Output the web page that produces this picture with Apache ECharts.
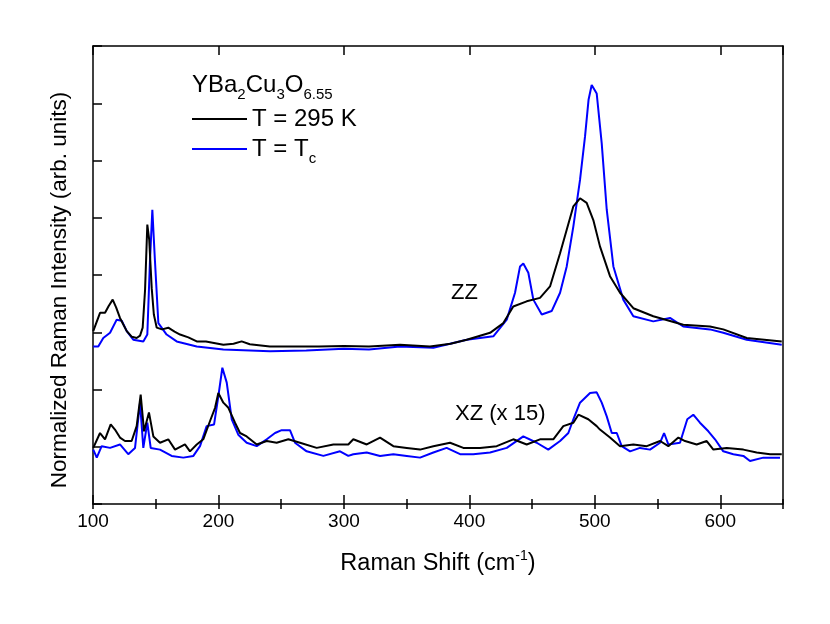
<!DOCTYPE html>
<html>
<head>
<meta charset="utf-8">
<script src="https://cdn.jsdelivr.net/npm/echarts@6/dist/echarts.min.js"></script>
<style>
html, body { margin: 0; padding: 0; background: #fff; }
#chart { width: 830px; height: 624px; }
</style>
</head>
<body>
<div id="chart"></div>
<script>
// Raman spectra (intensity in arbitrary units, 0..8 frame)
var zzRoomX = [100.2,105.6,109.6,112.5,115.7,118.5,121.5,126.9,131,134.8,137.5,139.6,141.5,143.3,144.8,146.8,148.5,150.8,155,160,165,169.4,176,182.7,190,203.9,212,218.5,225,241,260,280,300,320,344.7,368.6,385,397.9,416.5,427.1,435,445.7,456.3,464.3,472.3,477.6,482.9,488.2,493.5,498.8,504.1,512.1,520.1,530.7,546.6,570.5,591.8,602.4,621.1,649];
var zzRoomY = [3.02,3.34,3.34,3.46,3.57,3.43,3.25,3.02,2.92,2.90,2.94,3.08,3.74,4.88,4.62,3.77,3.31,3.08,3.05,3.08,3.01,2.96,2.91,2.84,2.84,2.78,2.80,2.84,2.79,2.75,2.75,2.75,2.76,2.75,2.78,2.75,2.80,2.87,2.99,3.16,3.45,3.54,3.60,3.80,4.38,4.79,5.20,5.34,5.26,4.96,4.50,3.98,3.69,3.42,3.28,3.13,3.10,3.05,2.90,2.84];

var zzTcX = [100.2,104.2,108.2,113.6,118.9,122.9,126.9,132.1,140.1,143.3,145.4,147.3,149.4,152.1,158.7,166.7,182.7,203.9,241.1,270,300,320,344.7,371.3,397.9,419.1,429.8,436.4,440.4,443,447,451,457.7,465.6,472.3,477.6,482.9,488.2,492.2,495,497.5,501.5,505.5,509.5,514.8,522.7,530.7,546.6,559.9,570.5,591.8,602.4,621.1,649];
var zzTcY = [2.75,2.75,2.90,2.99,3.22,3.20,3.02,2.87,2.84,2.96,4.24,5.14,4.24,3.16,2.96,2.84,2.75,2.70,2.67,2.68,2.71,2.70,2.75,2.73,2.87,2.93,3.22,3.69,4.15,4.20,4.04,3.57,3.31,3.37,3.69,4.15,4.85,5.66,6.42,7.06,7.32,7.17,6.30,5.14,4.15,3.57,3.28,3.19,3.25,3.10,3.05,2.99,2.87,2.78];

var xzRoomX = [100.2,105.6,109.6,114.1,117.5,121.5,125.5,130.8,134.8,138,140.7,144.6,148.1,153.4,160,165.4,173.3,177.3,182.7,187.9,193.3,197.3,199.9,203.9,207.9,213.2,217.2,222.5,230.5,238.5,246.4,255.7,265,278.3,291.6,303.5,307.5,318.2,328.8,339.4,350.1,360.7,371.3,384.6,395.2,408.5,421.8,435,445.7,456.3,466.9,474.9,482.9,486.9,494.8,501.5,504.1,512.1,520.1,530.7,541.4,552,558.6,566.6,571.9,581.2,589.2,594.5,605.1,618.4,629,639.7,649];
var xzRoomY = [0.98,1.24,1.13,1.39,1.30,1.16,1.10,1.10,1.36,1.91,1.27,1.60,1.18,1.07,1.13,0.95,1.04,0.92,1.04,1.13,1.45,1.68,1.94,1.77,1.68,1.42,1.24,1.18,1.04,1.10,1.07,1.13,1.07,0.98,1.04,1.04,1.13,1.04,1.16,1.01,0.98,0.95,1.01,1.07,0.98,0.98,1.01,1.13,1.04,1.13,1.13,1.36,1.42,1.56,1.48,1.36,1.30,1.16,1.01,1.04,1.01,1.10,1.01,1.16,1.10,1.04,1.10,0.95,0.98,0.95,0.90,0.87,0.87];

var xzTcX = [100.2,103,106.9,113.6,121.5,128.1,133.5,137.5,140.1,143.3,146,153.4,162.7,172,180,185.3,190.6,196.5,199.9,203.1,206.6,210.6,215.8,222.5,230.5,238.5,245.1,250.4,257,261,270.3,283.6,296.9,303.5,307.5,318.2,328.8,339.4,350.1,360.7,371.3,381.9,392.6,403.1,416.5,429.8,443,453.7,462.9,472.3,478.9,482.9,488.2,496.2,501.5,505.5,509.5,513.5,517.5,521.4,528.1,536,544,552,555.2,558.6,567.9,573.7,578.5,583.8,590.5,595.8,602.4,610.4,618.4,623.7,634.3,647.6];
var xzTcY = [0.95,0.81,1.01,0.98,1.04,0.87,0.98,1.77,0.98,1.42,0.98,0.95,0.84,0.81,0.84,1.01,1.36,1.39,1.88,2.38,2.12,1.48,1.21,1.07,1.01,1.13,1.24,1.29,1.29,1.07,0.92,0.84,0.92,0.84,0.87,0.90,0.84,0.87,0.84,0.81,0.90,0.98,0.87,0.87,0.90,0.98,1.18,1.07,0.95,1.10,1.24,1.48,1.77,1.94,1.95,1.77,1.53,1.24,1.24,1.01,0.92,0.98,0.95,1.07,1.24,1.04,1.07,1.48,1.56,1.42,1.27,1.13,0.92,0.87,0.84,0.75,0.81,0.81];

var roomName = 'T = 295 K';
var tcName = 'T = Tc';

var FONT = '"Liberation Sans", Arial, sans-serif';

function pairs(xs, ys) {
    return xs.map(function (x, i) { return [x, ys[i]]; });
}

// text with subscripts: main letters centred in a 34px line, subscripts sit at its bottom
var subRich = {
    m: { fontSize: 24, lineHeight: 24, color: '#000', fontFamily: FONT },
    s: { fontSize: 15, height: 15, lineHeight: 34, padding: [19, 0, 0, 0], verticalAlign: 'bottom', color: '#000', fontFamily: FONT }
};

var chart = echarts.init(document.getElementById('chart'));

var tickStyle = { color: '#000', width: 1.5 };

function lineSeries(name, xs, ys, color) {
    return {
        name: name,
        type: 'line',
        data: pairs(xs, ys),
        symbol: 'none',
        lineStyle: { color: color, width: 2 },
        itemStyle: { color: color },
        z: color === '#000' ? 3 : 2
    };
}

var option = {
    animation: false,
    backgroundColor: '#fff',
    grid: { left: 93, right: 47, top: 46, bottom: 120 },
    legend: {
        data: [roomName, tcName],
        orient: 'vertical',
        left: 192,
        top: 102,
        padding: 0,
        itemGap: -4,
        itemWidth: 55,
        itemHeight: 2,
        icon: 'rect',
        selectedMode: false,
        formatter: function (name) {
            if (name === tcName) return '{m|T = T}{s|c}';
            return '{m|' + name + '}{s| }';
        },
        textStyle: { rich: subRich }
    },
    xAxis: [{
        type: 'value', min: 100, max: 650, interval: 100, position: 'bottom',
        axisLine: { show: true, onZero: false, lineStyle: tickStyle },
        axisTick: { show: true, inside: true, length: 9, lineStyle: tickStyle },
        axisLabel: { fontSize: 19, color: '#000', margin: 8, fontFamily: FONT, showMaxLabel: false },
        splitLine: { show: false },
        name: '{m|Raman Shift (cm}{p|-1}{m|)}',
        nameLocation: 'middle',
        nameGap: 45,
        nameTextStyle: {
            rich: {
                m: { fontSize: 23.5, lineHeight: 29, color: '#000', fontFamily: FONT },
                p: { fontSize: 14, lineHeight: 14, verticalAlign: 'top', color: '#000', fontFamily: FONT }
            }
        }
    }, {
        type: 'value', min: 100, max: 650, interval: 50, position: 'bottom',
        axisLine: { show: false },
        axisTick: { show: true, inside: true, length: 5, lineStyle: tickStyle },
        axisLabel: { show: false },
        splitLine: { show: false }
    }, {
        type: 'value', min: 100, max: 650, interval: 100, position: 'top',
        axisLine: { show: true, onZero: false, lineStyle: tickStyle },
        axisTick: { show: true, inside: true, length: 9, lineStyle: tickStyle },
        axisLabel: { show: false },
        splitLine: { show: false }
    }, {
        type: 'value', min: 100, max: 650, interval: 50, position: 'top',
        axisLine: { show: false },
        axisTick: { show: true, inside: true, length: 5, lineStyle: tickStyle },
        axisLabel: { show: false },
        splitLine: { show: false }
    }],
    yAxis: [{
        type: 'value', min: 0, max: 8, interval: 1, position: 'left',
        axisLine: { show: true, onZero: false, lineStyle: tickStyle },
        axisTick: { show: true, inside: true, length: 9, lineStyle: tickStyle },
        axisLabel: { show: false },
        splitLine: { show: false }
    }, {
        type: 'value', min: 0, max: 8, interval: 1, position: 'right',
        axisLine: { show: true, onZero: false, lineStyle: tickStyle },
        axisTick: { show: false },
        axisLabel: { show: false },
        splitLine: { show: false }
    }],
    graphic: [{
        type: 'text', x: 60, y: 290, rotation: Math.PI / 2,
        style: { text: 'Normalized Raman Intensity (arb. units)', font: '22.5px ' + FONT, fill: '#000', align: 'center', verticalAlign: 'middle' }
    }, {
        type: 'text', x: 192, y: 85,
        style: { text: '{m|YBa}{s|2}{m|Cu}{s|3}{m|O}{s|6.55}', rich: subRich, align: 'left', verticalAlign: 'middle' }
    }, {
        type: 'text', x: 451, y: 293,
        style: { text: 'ZZ', font: '22px ' + FONT, fill: '#000', align: 'left', verticalAlign: 'middle' }
    }, {
        type: 'text', x: 455, y: 414,
        style: { text: 'XZ (x 15)', font: '22px ' + FONT, fill: '#000', align: 'left', verticalAlign: 'middle' }
    }],
    series: [
        lineSeries(tcName, zzTcX, zzTcY, '#0000ff'),
        lineSeries(roomName, zzRoomX, zzRoomY, '#000'),
        lineSeries(tcName, xzTcX, xzTcY, '#0000ff'),
        lineSeries(roomName, xzRoomX, xzRoomY, '#000')
    ]
};

chart.setOption(option);
</script>
</body>
</html>
